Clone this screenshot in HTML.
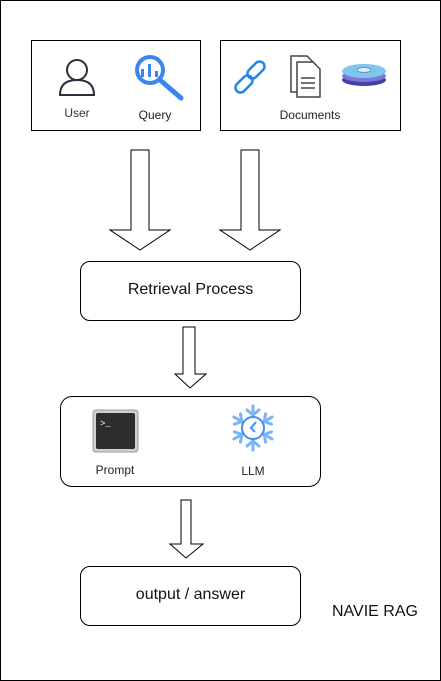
<!DOCTYPE html>
<html><head><style>
body{margin:0;width:441px;height:681px;background:#fff;font-family:"Liberation Sans",sans-serif;position:relative;overflow:hidden}
.b{position:absolute;box-sizing:border-box;border:1px solid #000;background:#fff}
.t{position:absolute;font-size:12px;color:#333;text-align:center}
</style></head><body>
<div class="b" style="left:0;top:0;width:441px;height:681px;border-color:#000"></div>
<div class="b" style="left:31px;top:40px;width:170px;height:91px"></div>
<div class="b" style="left:220px;top:40px;width:181px;height:91px"></div>
<div class="b" style="left:80px;top:261px;width:221px;height:60px;border-radius:10px"></div>
<div class="b" style="left:60px;top:396px;width:261px;height:91px;border-radius:12px"></div>
<div class="b" style="left:80px;top:566px;width:221px;height:60px;border-radius:10px"></div>
<svg width="441" height="681" style="position:absolute;left:0;top:0">
<g fill="#fff" stroke="#000" stroke-width="1">
<polygon points="131,150 149,150 149,230 170,230 140,250 110,230 131,230"/>
<polygon points="241,150 259,150 259,230 280,230 250,250 220,230 241,230"/>
<polygon points="183,327 195,327 195,374 206,374 190,388 175,374 183,374"/>
<polygon points="181,500 191,500 191,544 203,544 186,558 170,544 181,544"/>
</g>
<g fill="none" stroke="#2a2f3a" stroke-width="2">
<circle cx="77" cy="70" r="10"/>
<path d="M60,95 Q60,80 77,80 Q94,80 94,95 Z"/>
</g>
<g>
<circle cx="150" cy="70" r="13" fill="none" stroke="#3a86f0" stroke-width="4"/>
<line x1="160" y1="80" x2="181" y2="98" stroke="#3a86f0" stroke-width="5" stroke-linecap="round"/>
<rect x="141" y="69" width="3" height="8" fill="#3a86f0"/><rect x="148" y="64" width="3" height="13" fill="#3a86f0"/><rect x="155" y="71" width="3" height="6" fill="#3a86f0"/>
</g>
<g fill="none" stroke="#1e88f0" stroke-width="2.5">
<rect x="239" y="74" width="10" height="20" rx="5" transform="rotate(45 244 84)"/>
<rect x="251" y="60" width="10" height="20" rx="5" transform="rotate(45 256 70)"/>
</g>
<g stroke="#444" stroke-width="1.5" fill="#fff">
<path d="M291,56 h16 l6,6 v30 h-22 z"/>
<path d="M297,62 h16 l7,7 v28 h-23 z"/>
<line x1="301" y1="78" x2="315" y2="78"/><line x1="301" y1="83" x2="315" y2="83"/><line x1="301" y1="88" x2="315" y2="88"/>
</g>
<g>
<ellipse cx="364" cy="80" rx="22" ry="6" fill="#4a3ea8"/>
<ellipse cx="364" cy="76" rx="22" ry="6" fill="#7b78d8"/>
<ellipse cx="364" cy="71" rx="22" ry="7" fill="#7fc7ee"/>
<ellipse cx="364" cy="70" rx="7" ry="2.5" fill="#dfeefa" stroke="#6a8fd8"/>
</g>
<rect x="93" y="410" width="45" height="42" rx="3" fill="#cfcfcf" stroke="#999"/>
<rect x="96" y="413" width="39" height="36" rx="2" fill="#2d2d2d"/>
<text x="100" y="426" fill="#fff" font-size="9" font-family="Liberation Mono">&gt;_</text>
<g stroke="#7ab4f5" stroke-width="3" fill="none" stroke-linecap="round">
<g id="arm"><line x1="253" y1="428" x2="253" y2="406"/><polyline points="247,410 253,415 259,410"/></g>
<use href="#arm" transform="rotate(60 253 428)"/>
<use href="#arm" transform="rotate(120 253 428)"/>
<use href="#arm" transform="rotate(180 253 428)"/>
<use href="#arm" transform="rotate(240 253 428)"/>
<use href="#arm" transform="rotate(300 253 428)"/>
</g>
<circle cx="253" cy="428" r="11" fill="#fff" stroke="#3f8ef0" stroke-width="2"/>
<path d="M256,422 l-5,6 l4,4" fill="none" stroke="#3f8ef0" stroke-width="2"/>
</svg>
<div class="t" style="left:47px;top:106px;width:60px">User</div>
<div class="t" style="left:125px;top:108px;width:60px;color:#222">Query</div>
<div class="t" style="left:260px;top:108px;width:100px;color:#222">Documents</div>
<div class="t" style="left:85px;top:463px;width:60px;color:#222">Prompt</div>
<div class="t" style="left:223px;top:464px;width:60px;color:#222">LLM</div>
<div class="t" style="left:80px;top:281px;width:221px;font-size:16px;color:#111">Retrieval Process</div>
<div class="t" style="left:80px;top:586px;width:221px;font-size:16px;color:#111">output / answer</div>
<div class="t" style="left:332px;top:603px;font-size:16px;color:#111">NAVIE RAG</div>
</body></html>
